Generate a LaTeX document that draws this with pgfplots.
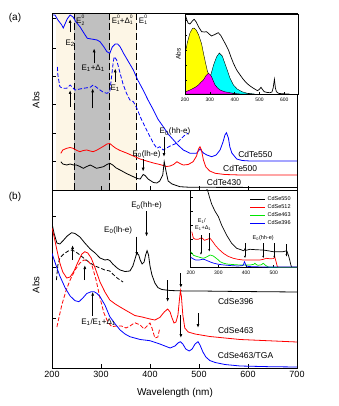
\documentclass[border=0pt]{standalone}
\usepackage{fontspec}
\setmainfont{Liberation Sans}
\usepackage{pgfplots}
\pgfplotsset{compat=1.18}
\usetikzlibrary{arrows.meta}

\definecolor{beige}{RGB}{253,246,230}
\definecolor{band}{RGB}{192,192,192}
\definecolor{cy}{RGB}{0,255,255}
\definecolor{mg}{RGB}{255,0,255}
\definecolor{yl}{RGB}{255,255,0}
\definecolor{gr}{RGB}{0,230,0}
\definecolor{bl}{RGB}{0,0,255}
\definecolor{rd}{RGB}{255,0,0}
\newcommand{\fs}[1]{\fontsize{#1}{#1}\selectfont}
% stacked superscript 0 over subscript
\newcommand{\st}[1]{\raisebox{-1.6pt}{\fs{5}\shortstack[l]{0\\#1}}}

\tikzset{
  arr/.style={-{Latex[length=4pt,width=3pt]}, line width=0.8pt},
  sarr/.style={-{Latex[length=2.5pt,width=2pt]}, line width=0.6pt},
  vdash/.style={black, line width=0.9pt, dash pattern=on 7pt off 3pt},
}
\pgfplotsset{
  every axis/.append style={
    scale only axis, tick align=inside, xtick pos=bottom, ytick pos=left,
    axis line style={line width=0.7pt}, every tick/.style={black, line width=0.6pt},
    /pgf/number format/assume math mode=true,
  },
}

\begin{document}
\begin{tikzpicture}[x=1pt,y=1pt]
\path[use as bounding box] (0,0) rectangle (338,-406);

% ---------------- panel (a) ----------------
\begin{axis}[at={(52pt,-190pt)}, anchor=south west, width=245pt, height=177pt,
  xmin=200, xmax=700, ymin=0, ymax=177,
  xtick={300,400,500,600}, xticklabels={}, ytick={29,57,86,114,142,172}, yticklabels={},
  major tick length=4pt, axis on top]
\fill[beige] (axis cs:209,0) rectangle (axis cs:373,177);
\fill[band] (axis cs:245,0) rectangle (axis cs:318,177);
\draw[vdash] (axis cs:245,0) -- (axis cs:245,177);
\draw[vdash] (axis cs:318,0) -- (axis cs:318,177);
\draw[vdash] (axis cs:373,0) -- (axis cs:373,177);

% CdTe550 solid
\addplot[bl, line width=0.8pt] coordinates {(200,175)(206,175)(212,170)(220,165)(223,162)(231,171)(237,175)(243,173)(249,168)(257,163.3)(265,157)(272,151.7)(284,150.7)(292,150)(298,148.3)(306,143)(312,138.3)(318,136.7)(323,143)(329,146)(334,146)(339,143.3)(346,136.7)(352,131.7)(366,120)(375,110)(386,100)(396,90)(407,80)(416,71)(427,63.3)(437,56)(448,50)(457,45)(468,40)(482,36.7)(495,36.7)(502,41)(509,37)(516,35)(526,33.3)(535,35)(543,40)(549,48)(553,55)(556,57.3)(560,52)(563,43)(567,37)(577,31)(588,29.5)(604,29)(700,29)};
% CdTe550 dashed
\addplot[bl, line width=0.8pt, dash pattern=on 4pt off 2pt] coordinates {(211,123)(212,115)(216,103.3)(222,101.7)(230,101.7)(237,105)(241,103)(247,100)(257,101)(264,101.7)(278,102.7)(284,105)(290,103)(298,100)(304,98)(312,96.7)(318,98.3)(322,115)(325,128)(327,133.3)(332,130)(339,116.7)(345,106)(352,96.7)(359,90)(366,88.3)(373,82)(380,73.3)(393,60)(407,46.7)(414,41.7)(420,43.3)(427,40)(434,42)(441,44)(454,46.7)(461,50)(469,54)(478,57)};
% CdTe500
\addplot[rd, line width=0.8pt] coordinates {(218,36.7)(222,40)(230,41.7)(237,42.5)(243,41.7)(251,39.5)(257,38.3)(264,39.5)(271,40)(278,39)(284,38.3)(292,40)(298,41.7)(306,44)(312,46)(318,46.5)(324,44)(331,41.5)(339,39.5)(352,37)(366,34)(380,31)(393,29)(407,27)(420,25.5)(434,23.5)(441,24)(448,25.5)(455,28.3)(461,26.5)(468,25)(478,25.5)(488,28.3)(495,34)(499,41)(502,43.3)(505,40)(509,30)(514,23)(522,19)(533,16.7)(553,15.5)(584,15)(700,15)};
% CdTe430
\addplot[black, line width=0.8pt] coordinates {(218,28.3)(222,26)(230,25)(237,26)(244,25)(250,25)(257,23.5)(264,21.7)(271,23.5)(278,25)(284,23.5)(291,21.7)(298,22.5)(305,23.3)(312,25.5)(318,26.7)(324,25)(331,22)(339,20)(352,16.5)(366,13.3)(374,11.5)(380,11)(384,14)(386,15.5)(390,14.5)(396,11)(407,7.5)(414,7)(420,9)(426,15)(429,28.3)(433,18)(437,9)(445,6)(461,3.3)(482,2.7)(700,2.5)};

% arrows and labels
\draw[arr] (axis cs:237,158) -- (axis cs:237,171);
\node[font=\fs{8}] at (axis cs:237,147) {E\textsubscript{2}};
\draw[arr] (axis cs:286,126.7) -- (axis cs:286,141.7);
\node[font=\fs{8}] at (axis cs:284,122) {E\textsubscript{1}+Δ\textsubscript{1}};
\draw[arr] (axis cs:329,108.3) -- (axis cs:329,121.7);
\node[font=\fs{8}] at (axis cs:329,102) {E\textsubscript{1}};
\draw[arr] (axis cs:237,83.3) -- (axis cs:237,100);
\draw[arr] (axis cs:283,81.7) -- (axis cs:283,101.7);
\draw[arr] (axis cs:386,31) -- (axis cs:386,18.3);
\node[font=\fs{8}] at (axis cs:393,36) {E\textsubscript{0}(lh-e)};
\draw[arr] (axis cs:428.6,53.3) -- (axis cs:428.6,33);
\node[font=\fs{8}] at (axis cs:451,58.3) {E\textsubscript{0}(hh-e)};
\node[font=\fs{8}, anchor=west, inner sep=1pt] at (axis cs:247,170) {E\st{2}};
\node[font=\fs{8}, anchor=west, inner sep=1pt] at (axis cs:319.5,170) {E\st{1}+Δ\st{1}};
\node[font=\fs{8}, anchor=west, inner sep=1pt] at (axis cs:375,170) {E\st{1}};
\node[font=\fs{8.5}] at (axis cs:615,36) {CdTe550};
\node[font=\fs{8.5}] at (axis cs:584,21.7) {CdTe500};
\node[font=\fs{8.5}] at (axis cs:551,7.3) {CdTe430};
\end{axis}

% inset (a)
\begin{axis}[at={(185pt,-94pt)}, anchor=south west, width=113pt, height=80pt,
  xmin=200, xmax=655, ymin=0, ymax=80,
  xtick={200,300,400,500,600}, ytick={14,29,44,59,74}, yticklabels={},
  major tick length=2pt, ticklabel style={font=\fs{5}},
  ylabel={Abs}, ylabel style={font=\fs{6.5}, yshift=-6pt},
  axis background/.style={fill=white}, axis on top]
\addplot[draw=black, line width=0.4pt, fill=yl] coordinates {(200,40)(210,52)(220,61)(230,65.5)(236,66)(245,64)(255,59)(267,50)(275,40)(281,33)(290,23)(301,16)(314,9)(334,4)(355,1.3)(380,0.2)(400,0)} \closedcycle;
\addplot[draw=black, line width=0.4pt, fill=cy] coordinates {(260,0.5)(270,2)(285,6)(295,11)(305,20)(315,29)(327,37)(338,41)(350,38)(360,31)(370,24)(381,16)(395,9)(410,5)(430,2.2)(450,0.8)(480,0)} \closedcycle;
\addplot[draw=black, line width=0.4pt, fill=mg] coordinates {(200,2)(220,4)(240,6.5)(254,9)(265,12)(274,14)(285,18.5)(294,20.7)(301,19.5)(307,17.3)(314,13)(321,9)(331,6)(341,4)(360,2.2)(381,1.3)(400,0.5)(420,0)} \closedcycle;
\addplot[black, line width=0.7pt] coordinates {(200,80)(205,76)(212,71)(220,70)(228,72.5)(237,74.7)(245,72)(255,67)(267,62.3)(278,62)(287,62.3)(297,60)(307,58)(320,59.5)(334,61.3)(344,58.5)(354,54)(365,49)(375,44)(385,37)(395,30.7)(408,24)(422,19)(435,14.5)(449,10.7)(462,8)(476,5.7)(492,3.3)(500,4.8)(506,6.7)(512,4.5)(519,2.3)(530,1.6)(542,1.3)(550,2)(555,6)(560,14.7)(564,6)(568,2.3)(576,0.7)(590,0.2)(620,0)};
\end{axis}

% ---------------- panel (b) ----------------
\begin{axis}[at={(52pt,-368pt)}, anchor=south west, width=245pt, height=178pt,
  xmin=200, xmax=700, ymin=0, ymax=178,
  xtick={200,300,400,500,600,700}, ytick={50,101,152}, yticklabels={},
  major tick length=4pt, ticklabel style={font=\fs{9}}]
% CdSe396 solid
\addplot[black, line width=0.8pt] coordinates {(200,145)(204,135)(210,125)(216,124)(222,127)(231,132)(240,135.3)(247,134.5)(257,131)(267,125)(278,119)(288,115)(298,110)(308,108)(314,108.5)(318,107.5)(324,104)(333,100)(339,98)(349,96.5)(359,97)(365,102)(370,110)(373,115)(377,113)(380,108)(384,104)(388,106)(391,113)(394,117.3)(397,113)(400,102)(404,93)(410,85)(416,80.5)(424,78.5)(441,77.5)(471,77)(502,77)(584,76.5)(700,76)};
% CdSe396 dashed
\addplot[black, line width=0.8pt, dash pattern=on 4pt off 2pt] coordinates {(209,88)(212,103)(216,110)(224,114)(233,117)(241,118)(249,116)(257,113)(267,109)(278,105)(288,102)(298,100)(308,98)(318,97)(324,94)(333,90)(339,88)(345,86)};
% CdSe463 solid
\addplot[rd, line width=0.8pt] coordinates {(200,140)(204,132)(210,118)(216,105)(222,96)(230,90)(237,91)(245,97)(253,106)(261,114)(267,116.3)(273,115)(280,110)(288,100)(298,86)(308,76)(318,68)(329,64)(339,61)(353,57)(369,52.5)(384,51)(400,49)(410,48)(420,50.5)(429,56)(436,59)(441,56)(445,50)(449,45)(453,46)(457,53)(460,68)(462,77.3)(464,72)(467,53)(471,40)(478,36)(492,34)(522,31.5)(584,28.5)(700,26)};
% CdSe463 dashed
\addplot[rd, line width=0.8pt, dash pattern=on 4pt off 2pt] coordinates {(210,41)(214,50)(220,63)(229,78)(237,88)(247,98)(257,105)(265,108)(273,107.3)(282,102)(290,88)(298,70)(306,55)(314,46)(322,41.3)(331,42)(342,42)(351,40)(359,42)(369,45.3)(380,43)(388,39)(394,42)(400,45)(404,40)(410,30)(416,31)(420,40)};
% CdSe463/TGA
\addplot[bl, line width=0.8pt] coordinates {(200,114.7)(208,103)(216,92)(227,80)(237,72)(247,67.3)(255,66.3)(263,70)(271,74.5)(280,76.3)(286,76.3)(292,74.5)(298,71.3)(308,63)(318,51.3)(329,44)(339,38)(349,34)(359,31.3)(380,28.5)(400,27.3)(420,24)(441,20)(451,22)(457,25)(462,26.3)(467,24)(473,19)(480,17)(486,19)(492,24)(498,26.3)(502,23)(508,16)(514,11)(522,7.5)(533,5.5)(553,3.5)(584,2)(645,1.3)(700,1)};

\draw[arr] (axis cs:242,108) -- (axis cs:242,123);
\draw[arr] (axis cs:267,88) -- (axis cs:267,103);
\draw[arr] (axis cs:283,52) -- (axis cs:283,76.3);
\node[font=\fs{8}] at (axis cs:295,46) {E\textsubscript{1}/E\textsubscript{1}+Δ\textsubscript{1}};
\draw[arr] (axis cs:373,131.3) -- (axis cs:373,112);
\node[font=\fs{8}] at (axis cs:335,138) {E\textsubscript{0}(lh-e)};
\draw[arr] (axis cs:393,157) -- (axis cs:393,131.3);
\node[font=\fs{8}] at (axis cs:393,162.3) {E\textsubscript{0}(hh-e)};
\draw[arr] (axis cs:436,88) -- (axis cs:436,66);
\draw[arr] (axis cs:463,95) -- (axis cs:463,80);
\draw[arr] (axis cs:463,53) -- (axis cs:463,30);
\draw[arr] (axis cs:498,55) -- (axis cs:498,40);
\node[font=\fs{8.5}] at (axis cs:575,67) {CdSe396};
\node[font=\fs{8.5}] at (axis cs:575,37.3) {CdSe463};
\node[font=\fs{8.5}] at (axis cs:595,12.3) {CdSe463/TGA};
\end{axis}

% inset (b)
\begin{axis}[at={(190.7pt,-267.3pt)}, anchor=south west, width=106.3pt, height=77.3pt,
  xmin=200, xmax=584, ymin=0, ymax=77.3,
  xtick={200,300,400,500}, ytick={14,28,42,56,70}, yticklabels={},
  major tick length=2pt, ticklabel style={font=\fs{5}},
  axis background/.style={fill=white},
  legend style={at={(0.97,0.96)}, anchor=north east, draw=none, fill=none,
    font=\fs{5.5}, row sep=-1.5pt, inner sep=1pt},
  legend cell align=left,
  legend image code/.code={\draw[#1] (0pt,0pt) -- (15pt,0pt);}]
\addplot[black, line width=0.7pt] coordinates {(245,85)(255,80)(262,76)(268,70)(276,63)(288,56)(300,50.6)(312,42)(330,32)(348,24)(366,19)(384,17.3)(392,16.5)(396,18.5)(400,17)(414,18)(440,17.5)(462,17.3)(480,16.5)(498,15.6)(520,15.6)(534,15.6)(547,16.6)(553,12)(558,7)(562,2)(566,0)(584,0)};
\addlegendentry{CdSe550}
\addplot[rd, line width=0.7pt] coordinates {(204,35.6)(207,32)(210,29)(218,28)(227,28)(235,29)(240,29.5)(250,27)(260,28)(270,29)(280,25.5)(288,22.3)(300,18.5)(318,14)(335,11)(354,9)(370,8)(390,7.3)(414,7.3)(450,7.3)(462,8)(474,9)(486,8.5)(498,8.7)(504,10)(508,6)(513,0.6)(520,0)(584,0)};
\addlegendentry{CdSe512}
\addplot[gr, line width=0.7pt] coordinates {(200,15.6)(205,14)(210,12)(225,10.6)(235,9.8)(245,9)(255,10)(270,12.3)(280,11.5)(288,10)(297,8)(306,5.6)(318,4.2)(330,3.3)(350,2.8)(378,2.3)(414,2.3)(428,3)(432,4)(438,2.5)(444,2)(455,2.5)(462,4)(470,2)(480,0.3)(490,0)(584,0)};
\addlegendentry{CdSe463}
\addplot[bl, line width=0.7pt] coordinates {(200,10)(210,8.3)(218,7.3)(230,7.3)(243,8)(250,7.8)(260,6.6)(272,5.2)(285,4)(300,3)(320,2.3)(345,1.7)(370,1.3)(385,1.6)(390,2.3)(394,5.5)(397,4)(400,1.3)(410,0.8)(430,0.5)(460,0.4)(584,0.3)};
\addlegendentry{CdSe396}
\draw[sarr] (axis cs:237,32.3) -- (axis cs:237,12.3);
\draw[sarr] (axis cs:267,34) -- (axis cs:267,15.6);
\draw[sarr] (axis cs:396,24) -- (axis cs:396,9);
\draw[sarr] (axis cs:462,24) -- (axis cs:462,9);
\draw[sarr] (axis cs:502,24) -- (axis cs:502,9);
\draw[sarr] (axis cs:546,23) -- (axis cs:546,10.6);
\node[font=\fs{5.5}] at (axis cs:240,46.6) {E\textsubscript{1}/};
\node[font=\fs{5.5}] at (axis cs:245,39) {E\textsubscript{1}+Δ\textsubscript{1}};
\node[font=\fs{5.5}] at (axis cs:462,29.5) {E\textsubscript{0}(hh-e)};
\end{axis}

% outer labels
\node[font=\fs{10}] at (15,-18) {(a)};
\node[font=\fs{10}] at (15,-197) {(b)};
\node[font=\fs{9.5}, rotate=90] at (36,-100) {Abs};
\node[font=\fs{9.5}, rotate=90] at (36,-285) {Abs};
\node[font=\fs{10}] at (175,-393) {Wavelength (nm)};
\end{tikzpicture}
\end{document}
